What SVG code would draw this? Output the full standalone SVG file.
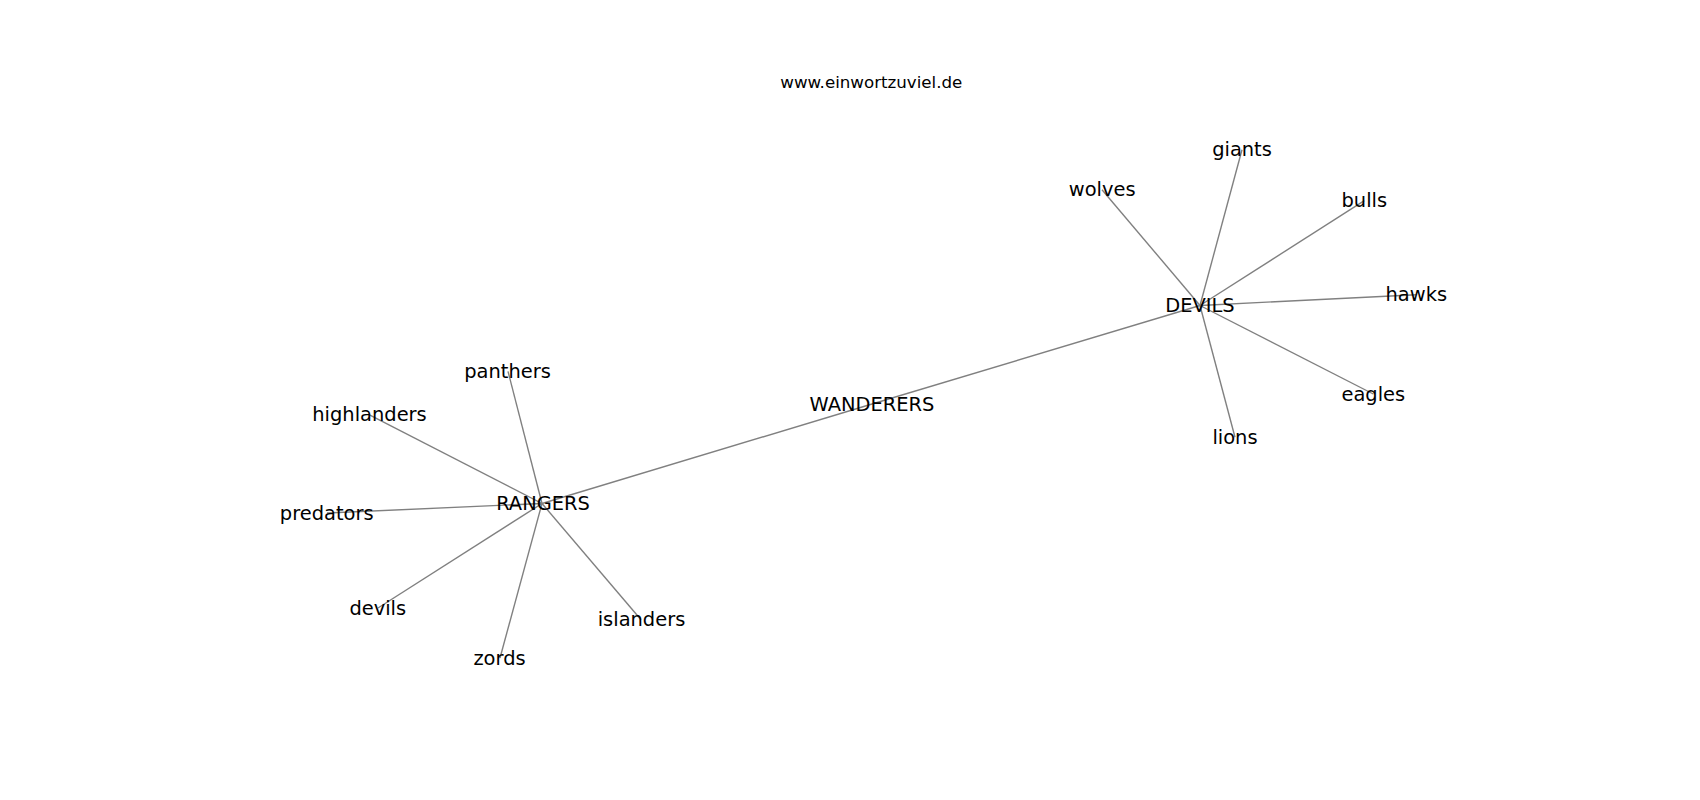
<svg xmlns="http://www.w3.org/2000/svg" width="1700" height="800" viewBox="0 0 1700 800">
<style>
.e{stroke:#808080;stroke-width:1.39;fill:none}
.t{font-family:"DejaVu Sans",sans-serif;font-size:19.44px;fill:#000;text-anchor:middle}
.title{font-family:"DejaVu Sans",sans-serif;font-size:16.67px;fill:#000;text-anchor:middle}
</style>
<rect width="1700" height="800" fill="#fff"/>
<text class="title" x="871.3" y="88">www.einwortzuviel.de</text>
<g id="edges">
<line class="e" x1="542" y1="503.5" x2="872" y2="404"/>
<line class="e" x1="872" y1="404" x2="1200" y2="305.5"/>
<line class="e" x1="542" y1="503.5" x2="508" y2="371.3"/>
<line class="e" x1="542" y1="503.5" x2="369" y2="414.7"/>
<line class="e" x1="542" y1="503.5" x2="327" y2="513"/>
<line class="e" x1="542" y1="503.5" x2="378" y2="608"/>
<line class="e" x1="542" y1="503.5" x2="500" y2="658"/>
<line class="e" x1="542" y1="503.5" x2="641" y2="619.7"/>
<line class="e" x1="1200" y1="305.5" x2="1242" y2="149.7"/>
<line class="e" x1="1200" y1="305.5" x2="1102" y2="189.7"/>
<line class="e" x1="1200" y1="305.5" x2="1364.3" y2="200.7"/>
<line class="e" x1="1200" y1="305.5" x2="1416.3" y2="294.7"/>
<line class="e" x1="1200" y1="305.5" x2="1373.3" y2="394"/>
<line class="e" x1="1200" y1="305.5" x2="1235" y2="437.3"/>
</g>
<g id="RANGERS"><text class="t" x="543" y="510.3">RANGERS</text></g>
<g id="WANDERERS"><text class="t" x="872" y="410.5">WANDERERS</text></g>
<g id="DEVILS"><text class="t" x="1200" y="311.5">DEVILS</text></g>
<g id="panthers"><text class="t" x="507.5" y="377.8">panthers</text></g>
<g id="highlanders"><text class="t" x="369.5" y="421">highlanders</text></g>
<g id="predators"><text class="t" x="326.7" y="519.8">predators</text></g>
<g id="devils"><text class="t" x="377.8" y="614.5">devils</text></g>
<g id="zords"><text class="t" x="499.5" y="664.5">zords</text></g>
<g id="islanders"><text class="t" x="641.5" y="626">islanders</text></g>
<g id="giants"><text class="t" x="1242" y="156">giants</text></g>
<g id="wolves"><text class="t" x="1102.2" y="196">wolves</text></g>
<g id="bulls"><text class="t" x="1364.3" y="207">bulls</text></g>
<g id="hawks"><text class="t" x="1416.3" y="301">hawks</text></g>
<g id="eagles"><text class="t" x="1373.3" y="400.8">eagles</text></g>
<g id="lions"><text class="t" x="1235" y="443.8">lions</text></g>
</svg>
